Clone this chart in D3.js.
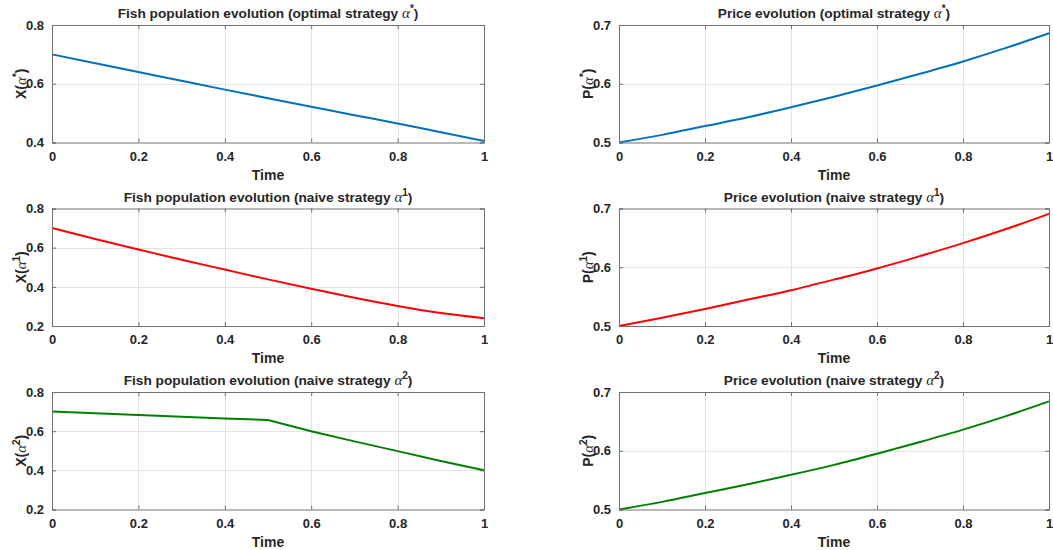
<!DOCTYPE html>
<html>
<head>
<meta charset="utf-8">
<script src="https://cdn.jsdelivr.net/npm/d3@7"></script>
<style>
  body { margin: 0; background: #fff; }
  svg { display: block; }
  text { font-family: "Liberation Sans", Arial, sans-serif; font-weight: bold; fill: #262626; }
</style>
</head>
<body>
<div id="chart"></div>
<script>
// time grid (shared by all panels)
var time = [0, 0.1, 0.2, 0.3, 0.4, 0.5, 0.6, 0.7, 0.8, 0.9, 1];

// fish population
var fishOptimal = [0.700, 0.670, 0.640, 0.610, 0.580, 0.551, 0.522, 0.493, 0.465, 0.435, 0.405];
var fishNaive1  = [0.700, 0.644, 0.591, 0.538, 0.488, 0.438, 0.390, 0.344, 0.302, 0.266, 0.240];
var fishNaive2  = [0.700, 0.692, 0.683, 0.674, 0.665, 0.657, 0.600, 0.548, 0.498, 0.448, 0.400];

// price
var priceOptimal = [0.500, 0.513, 0.528, 0.543, 0.560, 0.578, 0.597, 0.617, 0.638, 0.661, 0.686];
var priceNaive1  = [0.500, 0.514, 0.529, 0.545, 0.561, 0.579, 0.598, 0.619, 0.641, 0.665, 0.691];
var priceNaive2  = [0.500, 0.513, 0.528, 0.543, 0.559, 0.576, 0.595, 0.615, 0.636, 0.659, 0.684];

// tick labels
var xTicks = [0, 0.2, 0.4, 0.6, 0.8, 1];
var fishTicksTop = [0.4, 0.6, 0.8];
var fishTicks = [0.2, 0.4, 0.6, 0.8];
var priceTicks = [0.5, 0.6, 0.7];

var panels = [
  {col: 0, row: 0, title: "Fish population evolution (optimal strategy ", sup: "*", letter: "X", values: fishOptimal, domain: [0.4, 0.8], ticks: fishTicksTop, color: "#0072BD"},
  {col: 1, row: 0, title: "Price evolution (optimal strategy ", sup: "*", letter: "P", values: priceOptimal, domain: [0.5, 0.7], ticks: priceTicks, color: "#0072BD"},
  {col: 0, row: 1, title: "Fish population evolution (naive strategy ", sup: "1", letter: "X", values: fishNaive1, domain: [0.2, 0.8], ticks: fishTicks, color: "#FF0000"},
  {col: 1, row: 1, title: "Price evolution (naive strategy ", sup: "1", letter: "P", values: priceNaive1, domain: [0.5, 0.7], ticks: priceTicks, color: "#FF0000"},
  {col: 0, row: 2, title: "Fish population evolution (naive strategy ", sup: "2", letter: "X", values: fishNaive2, domain: [0.2, 0.8], ticks: fishTicks, color: "#008000"},
  {col: 1, row: 2, title: "Price evolution (naive strategy ", sup: "2", letter: "P", values: priceNaive2, domain: [0.5, 0.7], ticks: priceTicks, color: "#008000"}
];

var W = 1053, H = 550;
var colX = [[52, 484], [619, 1049]];
var rowY = [25, 208.5, 392];
var ph = 117.5;

var svg = d3.select("#chart").append("svg").attr("width", W).attr("height", H);

panels.forEach(function(p) {
  var x0 = colX[p.col][0], x1 = colX[p.col][1];
  var y0 = rowY[p.row], y1 = y0 + ph;
  var x = d3.scaleLinear().domain([0, 1]).range([x0, x1]);
  var y = d3.scaleLinear().domain(p.domain).range([y1, y0]);
  var g = svg.append("g");

  // grid
  g.selectAll(".gx").data(xTicks.slice(1, -1)).enter().append("line")
    .attr("x1", function(d){ return Math.round(x(d)) + 0.5; })
    .attr("x2", function(d){ return Math.round(x(d)) + 0.5; })
    .attr("y1", y0).attr("y2", y1)
    .attr("stroke", "#e3e3e3").attr("stroke-width", 1);
  g.selectAll(".gy").data(p.ticks.slice(1, -1)).enter().append("line")
    .attr("y1", function(d){ return Math.round(y(d)) + 0.5; })
    .attr("y2", function(d){ return Math.round(y(d)) + 0.5; })
    .attr("x1", x0).attr("x2", x1)
    .attr("stroke", "#e3e3e3").attr("stroke-width", 1);

  // curve
  var line = d3.line().x(function(d, i){ return x(time[i]); }).y(function(d){ return y(d); })
    .curve(d3.curveMonotoneX);
  if (p.sup === "2" && p.letter === "X") line.curve(d3.curveLinear);
  g.append("path").datum(p.values).attr("d", line)
    .attr("fill", "none").attr("stroke", p.color).attr("stroke-width", 2);

  // axes (MATLAB-like: ticks inside, box)
  var xAxis = d3.axisBottom(x).tickValues(xTicks).tickSize(-4).tickPadding(9)
    .tickFormat(function(d){ return d3.format("~g")(d); });
  var yAxis = d3.axisLeft(y).tickValues(p.ticks).tickSize(-4).tickPadding(8)
    .tickFormat(function(d){ return d3.format("~g")(d); });
  var ax = g.append("g").attr("transform", "translate(0," + y1 + ")").call(xAxis);
  var ay = g.append("g").attr("transform", "translate(" + x0 + ",0)").call(yAxis);
  var ax2 = g.append("g").attr("transform", "translate(0," + y0 + ")")
    .call(d3.axisTop(x).tickValues(xTicks).tickSize(-4).tickFormat(""));
  var ay2 = g.append("g").attr("transform", "translate(" + x1 + ",0)")
    .call(d3.axisRight(y).tickValues(p.ticks).tickSize(-4).tickFormat(""));
  [ax, ay, ax2, ay2].forEach(function(a) {
    a.select(".domain").attr("stroke", "#707070");
    a.selectAll(".tick line").attr("stroke", "#707070");
    a.selectAll("text").attr("font-family", null).attr("font-size", 13).attr("fill", "#262626");
  });

  // title
  var t = g.append("text").attr("x", (x0 + x1) / 2).attr("y", y0 - 7)
    .attr("text-anchor", "middle").attr("font-size", 13.7);
  t.append("tspan").text(p.title);
  t.append("tspan").attr("font-family", "'Liberation Serif', serif").attr("font-style", "italic")
    .attr("font-weight", "normal").attr("font-size", 15).text("\u03b1");
  t.append("tspan").attr("dy", -6).attr("font-size", 10).text(p.sup);
  t.append("tspan").attr("dy", 6).text(")");

  // x label
  g.append("text").attr("x", (x0 + x1) / 2).attr("y", y1 + 37)
    .attr("text-anchor", "middle").attr("font-size", 14).text("Time");

  // y label
  var lx = x0 - 26;
  var yl = g.append("text").attr("transform", "translate(" + lx + "," + ((y0 + y1) / 2) + ") rotate(-90)")
    .attr("text-anchor", "middle").attr("font-size", 14);
  yl.append("tspan").text(p.letter + "(");
  yl.append("tspan").attr("font-family", "'Liberation Serif', serif").attr("font-style", "italic")
    .attr("font-weight", "normal").attr("font-size", 15).text("\u03b1");
  yl.append("tspan").attr("dy", -6).attr("font-size", 10).text(p.sup);
  yl.append("tspan").attr("dy", 6).text(")");
});
</script>
</body>
</html>
